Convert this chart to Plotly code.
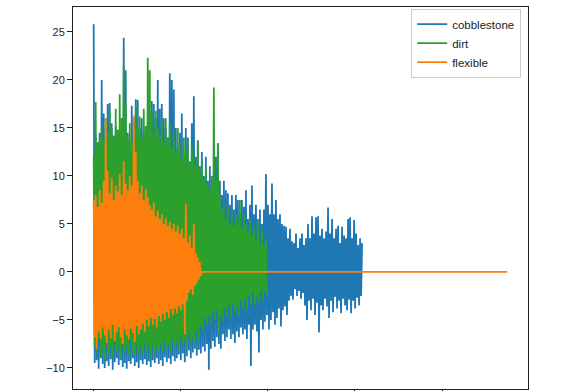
# Vibration traces for three road surfaces, matplotlib-like look
import numpy as np
import plotly.graph_objects as go

DT = 23  # sample spacing (x units per sample)

# each trace is stored as alternating peak / trough samples
cobble_hi = [25.8, 14.0, 13.5, 14.5, 20.0, 16.5, 15.0, 17.5, 17.6, 15.5, 14.0, 15.2, 13.0, 14.8,
             16.0, 24.4, 21.0, 14.5, 12.5, 17.3, 16.0, 18.0, 17.9, 15.0, 16.0, 14.5, 13.0, 15.5,
             14.0, 17.8, 17.5, 16.0, 20.0, 17.0, 17.5, 16.0, 15.0, 14.0, 20.7, 20.0, 19.0, 15.0,
             13.0, 14.5, 16.5, 12.0, 15.0, 14.0, 11.5, 15.5, 18.3, 12.0, 13.7, 11.0, 12.5, 10.0,
             12.0, 9.5, 11.0, 9.0, 10.5, 12.0, 13.4, 9.5, 8.0, 9.5, 8.5, 8.2, 7.0, 8.0, 6.5, 8.0,
             7.5, 6.0, 7.5, 6.8, 8.5, 5.5, 7.0, 9.0, 6.0, 7.0, 5.5, 6.5, 5.0, 6.5, 10.2, 7.0, 6.0,
             9.2, 6.0, 7.5, 5.5, 6.0, 5.0, 4.8, 4.7, 3.5, 4.5, 3.2, 3.0, 4.0, 2.5, 3.5, 4.0, 2.8,
             3.5, 5.0, 3.5, 5.8, 4.0, 5.7, 5.8, 3.8, 4.5, 3.5, 4.2, 6.7, 4.0, 5.5, 3.5, 4.5, 4.8,
             3.0, 4.7, 3.8, 3.5, 5.5, 5.7, 3.5, 5.4, 4.0, 2.8, 3.5, 3.0]
cobble_lo = [-9.5, -9.2, -10.1, -9.0, -9.6, -10.0, -9.3, -9.8, -9.1, -10.2, -9.4, -9.0, -9.7,
             -9.2, -9.9, -9.5, -10.1, -9.3, -9.6, -9.0, -9.8, -9.4, -10.0, -9.2, -9.6, -9.1,
             -9.7, -9.3, -9.9, -9.2, -9.5, -9.0, -9.6,
             -9.2, -9.8, -8.9, -9.4, -9.0, -9.6, -8.8, -9.3, -9.0, -8.6, -9.2, -8.5, -9.4, -8.8,
             -8.2, -9.0, -8.4, -8.0, -8.7, -8.1,
             -8.5, -7.8, -8.3, -7.5, -10.2, -8.0, -7.2, -7.8, -6.8, -7.5, -8.0, -6.5, -7.2, -6.8,
             -6.0, -7.0, -6.5, -7.4, -6.2, -6.8, -5.8, -6.5, -6.0, -7.0, -5.5,
             -9.8, -6.0, -5.5, -6.2, -8.4, -5.0, -6.0, -5.2, -4.5, -6.0, -5.0, -4.2, -5.5, -4.8,
             -3.8, -5.7, -4.0, -3.6, -4.5, -3.0, -2.5, -2.9, -1.8, -2.5, -2.0,
             -2.8, -2.2, -3.5, -5.0, -3.0, -4.0, -2.8, -4.5, -3.2, -6.3, -3.5, -4.0, -2.8, -3.6,
             -4.8, -3.0, -4.2, -2.6, -3.8, -3.0, -4.3, -2.8, -3.5, -4.0, -2.9, -4.3, -3.0, -3.8,
             -2.7, -3.5, -2.5]

dirt_hi = [12.0, 17.7, 13.5, 14.0, 15.2, 13.8, 16.0, 14.5, 16.8, 15.0, 14.2, 17.0, 14.8, 18.5,
           16.0, 21.4, 17.5, 14.0, 15.5, 13.5, 14.8, 17.3, 15.0, 16.2, 14.0, 17.0, 15.2, 22.3,
           21.0, 16.5, 14.5, 16.8, 15.0, 14.2, 15.8, 13.5, 16.0, 14.0, 15.5, 13.0, 14.5, 12.5,
           15.0, 13.2, 12.0, 14.0, 12.5, 13.8, 11.5, 13.0, 12.0, 11.0, 13.7, 10.5, 11.5, 9.5,
           10.8, 9.0, 8.5, 10.0, 19.2, 9.5, 13.4, 8.0, 6.5, 7.0, 5.5, 6.7, 5.0, 6.2, 4.8, 6.0,
           5.2, 7.5, 4.5, 6.0, 5.0, 4.2, 5.5, 3.8, 4.8, 3.5, 5.2, 3.0, 4.5, 2.8, 3.5]
dirt_lo = [-7.8, -8.5, -7.2, -8.8, -8.0, -9.1, -7.5, -8.6, -7.9, -8.9, -7.4, -8.3, -8.0, -9.0,
           -7.6, -8.4, -7.8, -8.7, -7.3, -8.2, -8.8, -7.7, -8.5, -7.9, -8.6, -7.5, -8.3, -7.8,
           -8.9, -7.6, -8.4, -7.9, -8.2,
           -7.5, -8.3, -7.2, -8.0, -7.6, -8.4, -7.0, -7.8, -7.3, -8.0, -6.8, -7.6, -7.0, -7.8,
           -6.5, -7.2, -6.8, -7.5, -6.2, -7.0,
           -5.5, -6.2, -4.8, -5.6, -4.5, -5.3, -4.2, -5.0, -4.0, -6.3, -4.5, -5.2, -3.8, -4.6,
           -3.5, -4.8, -3.2, -4.2, -3.6, -4.5, -3.0, -3.8, -2.8, -3.9, -2.5, -3.4, -2.2, -3.5,
           -2.6, -3.2, -2.0, -3.0, -1.9, -2.5]

flex_hi = [7.5, 8.0, 6.8, 8.5, 7.2, 9.5, 15.8, 10.5, 8.2, 9.8, 7.5, 9.0, 8.4, 10.2, 8.0, 11.5,
           9.2, 8.5, 10.0, 9.0, 16.3, 12.5, 9.5, 8.2, 9.0, 7.5, 8.6, 7.8, 7.0, 6.5, 7.2, 5.8,
           6.4, 5.5, 6.0, 5.0, 5.6, 4.8, 5.2, 4.5, 5.0, 4.2, 4.8, 4.0, 4.5, 3.5, 7.1, 3.0, 3.8,
           2.5, 5.0, 2.0, 1.5, 1.0]
flex_lo = [-6.8, -8.0, -6.2, -7.0, -5.8, -6.6, -7.4, -6.0, -6.9, -5.5, -7.2, -6.3, -5.8, -6.8,
           -7.5, -6.0, -6.6, -7.0, -5.9, -6.4, -7.3, -5.6, -6.5, -6.0, -5.4, -6.2, -5.0, -5.7,
           -4.8, -5.5, -4.9, -5.8, -4.6, -5.2, -4.4, -5.0, -4.2, -4.8, -3.9, -4.5, -3.8, -4.3,
           -3.6, -4.0, -3.4, -6.5, -3.0, -2.2, -1.8, -2.4, -1.5, -1.2, -0.8, -0.4]
flex_idle = np.zeros(306)  # recording continues, sensor reads 0

surfaces = ["cobblestone", "dirt", "flexible"]
colours = {"cobblestone": "#1f77b4", "dirt": "#2ca02c", "flexible": "#ff7f0e"}


def interleave(hi, lo):
    out = []
    for i in range(len(hi)):
        out.append(hi[i])
        if i < len(lo):
            out.append(lo[i])
    return out


signals = {
    "cobblestone": np.array(interleave(cobble_hi, cobble_lo)),
    "dirt": np.array(interleave(dirt_hi, dirt_lo)),
    "flexible": np.concatenate([interleave(flex_hi, flex_lo), flex_idle]),
}

fig = go.Figure()
for s in surfaces:
    y = signals[s]
    fig.add_trace(
        go.Scatter(
            x=np.arange(len(y)) * DT,
            y=y,
            mode="lines",
            name=s,
            line=dict(color=colours[s], width=1.8, simplify=False),
        )
    )

axis_common = dict(
    showline=True,
    linecolor="#222222",
    linewidth=1,
    mirror=True,
    showgrid=False,
    zeroline=False,
    ticks="outside",
    ticklen=5,
    tickcolor="#222222",
    automargin=False,
)
fig.update_xaxes(range=[-475, 9974], dtick=2000, tick0=0, showticklabels=False, **axis_common)
fig.update_yaxes(range=[-12.2, 27.6], dtick=5, tick0=0, **axis_common)

fig.update_layout(
    width=586,
    height=391,
    margin=dict(l=73, r=58, t=7, b=2),
    paper_bgcolor="white",
    plot_bgcolor="white",
    font=dict(family="Liberation Sans", size=11, color="#222222"),
    legend=dict(
        x=0.985,
        y=0.996,
        xanchor="right",
        yanchor="top",
        bgcolor="rgba(255,255,255,0.8)",
        bordercolor="#cccccc",
        borderwidth=1,
        font=dict(size=11.5),
        tracegroupgap=0,
    ),
)

# drop the default page margin so the figure sits at the window's corner
fig.write_html(
    "out.html",
    config={"displayModeBar": False},
    post_script="document.body.style.margin='0';",
)
